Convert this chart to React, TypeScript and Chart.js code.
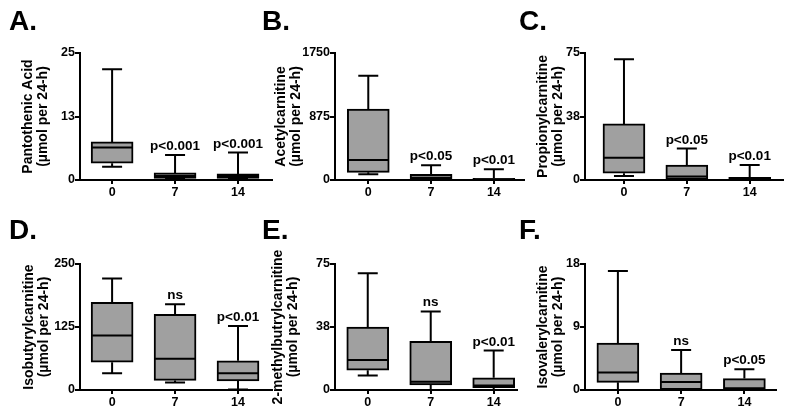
import React, { useEffect, useRef } from 'react';
import { Chart, registerables } from 'chart.js';

Chart.register(...registerables);

const FONT = "'Liberation Sans', Arial, Helvetica, sans-serif";

// Days (x categories)
const dayLabels = ['0', '7', '14'];
const unitLabel = '(µmol per 24-h)';

// Box statistics per day: [min, q1, median, q3, max]
const pantothenicAcid = [[2.6, 3.3, 6.4, 7.5, 21.8], [0.2, 0.3, 0.8, 1.4, 4.9], [0.2, 0.3, 0.8, 1.2, 5.4]];
const acetylcarnitine = [[79, 106, 276, 976, 1436], [5, 10, 32, 79, 203], [0, 3, 10, 23, 148]];
const propionylcarnitine = [[2.4, 4.0, 13.1, 33.1, 71.3], [0.1, 0.3, 2.0, 8.8, 18.6], [0, 0.2, 0.6, 1.6, 8.8]];
const isobutyrylcarnitine = [[33, 55, 108, 174, 221], [15, 19, 62, 150, 170], [1, 18, 33, 58, 127]];
const methylbutyrylcarnitine = [[8.7, 11.8, 17.8, 37.5, 69.5], [0, 3.0, 4.9, 29.0, 46.8], [0, 1.4, 2.7, 7.3, 23.5]];
const isovalerylcarnitine = [[0, 1.1, 2.5, 6.7, 17.0], [0, 0.05, 1.14, 2.4, 5.7], [0, 0.05, 0.24, 1.63, 2.96]];

// Significance labels per day
const sigA = ['', 'p<0.001', 'p<0.001'];
const sigB = ['', 'p<0.05', 'p<0.01'];
const sigC = ['', 'p<0.05', 'p<0.01'];
const sigD = ['', 'ns', 'p<0.01'];
const sigE = ['', 'ns', 'p<0.01'];
const sigF = ['', 'ns', 'p<0.05'];

// Y-axis maxima (ticks at 0, max/2, max)
const yMaxes = [25, 1750, 75, 250, 75, 18];

const titles = [
  'Pantothenic Acid',
  'Acetylcarnitine',
  'Propionylcarnitine',
  'Isobutyrylcarnitine',
  '2-methylbutrylcarnitine',
  'Isovalerylcarnitine',
];
const letters = ['A.', 'B.', 'C.', 'D.', 'E.', 'F.'];

const statsList = [pantothenicAcid, acetylcarnitine, propionylcarnitine, isobutyrylcarnitine, methylbutyrylcarnitine, isovalerylcarnitine];
const sigList = [sigA, sigB, sigC, sigD, sigE, sigF];

// Layout geometry (pixels)
const layouts = [
  { cx: 0, cy: 0, cw: 280, ch: 208, axisX: 80, top: 53, bottom: 180, right: 272, xMin: -0.51, xMax: 2.54, titleC: 28, lx: 9, ly: 30 },
  { cx: 255, cy: 0, cw: 285, ch: 208, axisX: 335, top: 53, bottom: 180, right: 524, xMin: -0.53, xMax: 2.48, titleC: 26, lx: 7, ly: 30 },
  { cx: 510, cy: 0, cw: 282, ch: 208, axisX: 585, top: 53, bottom: 180, right: 783, xMin: -0.62, xMax: 2.53, titleC: 33, lx: 9, ly: 30 },
  { cx: 0, cy: 208, cw: 280, ch: 208, axisX: 80, top: 264, bottom: 390, right: 272, xMin: -0.51, xMax: 2.54, titleC: 29, lx: 9, ly: 31 },
  { cx: 255, cy: 208, cw: 285, ch: 208, axisX: 335, top: 264, bottom: 390, right: 517, xMin: -0.52, xMax: 2.37, titleC: 23, lx: 7, ly: 31 },
  { cx: 510, cy: 208, cw: 282, ch: 208, axisX: 585, top: 264, bottom: 390, right: 776, xMin: -0.52, xMax: 2.5, titleC: 33, lx: 9, ly: 31 },
];

const TITLE_SIZE = 14;
const TITLE_LH = 1.05;

function makeBoxPlugin(stats: number[][], sig: string[], letter: string, lx: number, ly: number) {
  return {
    id: 'boxExtras',
    beforeDatasetsDraw(chart: any) {
      const ctx = chart.ctx;
      const xs = chart.scales.x;
      const ys = chart.scales.y;
      ctx.save();
      ctx.strokeStyle = '#000';
      ctx.lineWidth = 2;
      stats.forEach((s, i) => {
        const px = xs.getPixelForValue(i);
        const cap = 10;
        const yMin = ys.getPixelForValue(s[0]);
        const yQ1 = ys.getPixelForValue(s[1]);
        const yQ3 = ys.getPixelForValue(s[3]);
        const yMax = ys.getPixelForValue(s[4]);
        ctx.beginPath();
        ctx.moveTo(px, yQ3);
        ctx.lineTo(px, yMax);
        ctx.moveTo(px - cap, yMax);
        ctx.lineTo(px + cap, yMax);
        ctx.moveTo(px, yQ1);
        ctx.lineTo(px, yMin);
        ctx.moveTo(px - cap, yMin);
        ctx.lineTo(px + cap, yMin);
        ctx.stroke();
      });
      ctx.restore();
    },
    afterDatasetsDraw(chart: any) {
      const ctx = chart.ctx;
      const xs = chart.scales.x;
      const ys = chart.scales.y;
      ctx.save();
      ctx.strokeStyle = '#000';
      ctx.lineWidth = 2;
      stats.forEach((s, i) => {
        const px = xs.getPixelForValue(i);
        const yMed = ys.getPixelForValue(s[2]);
        ctx.beginPath();
        ctx.moveTo(px - 20, yMed);
        ctx.lineTo(px + 20, yMed);
        ctx.stroke();
      });
      ctx.fillStyle = '#000';
      ctx.font = `bold 13.5px ${FONT}`;
      ctx.textAlign = 'center';
      ctx.textBaseline = 'alphabetic';
      stats.forEach((s, i) => {
        if (!sig[i]) return;
        const px = xs.getPixelForValue(i);
        const yMax = ys.getPixelForValue(s[4]);
        ctx.fillText(sig[i], px, yMax - 5);
      });
      ctx.textAlign = 'left';
      ctx.font = `bold 28px ${FONT}`;
      ctx.fillText(letter, lx, ly);
      ctx.restore();
    },
  };
}

function Panel({ idx }: { idx: number }) {
  const ref = useRef<HTMLCanvasElement>(null);
  const L = layouts[idx];
  useEffect(() => {
    const stats = statsList[idx];
    const yMax = yMaxes[idx];
    const chart = new Chart(ref.current as HTMLCanvasElement, {
      type: 'bar',
      data: {
        datasets: [
          {
            data: stats.map((s, i) => ({ x: i, y: [s[1], s[3]] })) as any,
            backgroundColor: '#a0a0a0',
            borderColor: '#000',
            borderWidth: 2,
            borderSkipped: false,
            barThickness: 42,
          } as any,
        ],
      },
      options: {
        animation: false,
        responsive: false,
        devicePixelRatio: 1,
        events: [],
        layout: {
          padding: {
            left: 0,
            top: L.top - L.cy,
            right: L.cx + L.cw - L.right,
            bottom: 0,
          },
        },
        plugins: {
          legend: { display: false },
          tooltip: { enabled: false },
        },
        scales: {
          x: {
            type: 'linear',
            min: L.xMin,
            max: L.xMax,
            offset: false,
            afterBuildTicks: (s: any) => {
              s.ticks = dayLabels.map((_, i) => ({ value: i }));
            },
            afterFit: (s: any) => {
              s.height = L.cy + L.ch - L.bottom;
            },
            ticks: {
              callback: (_v: any, i: number) => dayLabels[i],
              autoSkip: false,
              maxRotation: 0,
              color: '#000',
              padding: 1,
              font: { family: FONT, size: 12.5, weight: 'bold' },
            },
            grid: {
              offset: false,
              drawOnChartArea: false,
              drawTicks: true,
              tickLength: 4,
              color: '#000',
              lineWidth: 2,
            },
            border: { display: true, color: '#000', width: 2 },
          } as any,
          y: {
            type: 'linear',
            min: 0,
            max: yMax,
            afterBuildTicks: (s: any) => {
              s.ticks = [0, yMax / 2, yMax].map((v) => ({ value: v }));
            },
            afterFit: (s: any) => {
              s.width = L.axisX - L.cx;
            },
            ticks: {
              callback: (v: any) => String(Math.round(Number(v))),
              color: '#000',
              padding: 0,
              font: { family: FONT, size: 12.5, weight: 'bold' },
            },
            grid: {
              drawOnChartArea: false,
              drawTicks: true,
              tickLength: 5,
              color: '#000',
              lineWidth: 2,
            },
            border: { display: true, color: '#000', width: 2 },
            title: {
              display: true,
              text: [titles[idx], unitLabel],
              color: '#000',
              font: { family: FONT, size: TITLE_SIZE, weight: 'bold', lineHeight: TITLE_LH },
              padding: { top: L.titleC - (TITLE_SIZE * TITLE_LH) / 2, bottom: 0 },
            },
          } as any,
        },
      },
      plugins: [makeBoxPlugin(stats, sigList[idx], letters[idx], L.lx, L.ly)],
    });
    return () => chart.destroy();
  }, [idx]);
  return (
    <canvas
      ref={ref}
      width={L.cw}
      height={L.ch}
      style={{ position: 'absolute', left: L.cx, top: L.cy, width: L.cw, height: L.ch }}
    />
  );
}

export default function App() {
  return (
    <div
      style={{
        position: 'fixed',
        left: 0,
        top: 0,
        width: 792,
        height: 416,
        background: '#fff',
        overflow: 'hidden',
      }}
    >
      {layouts.map((_, i) => (
        <Panel key={i} idx={i} />
      ))}
    </div>
  );
}
